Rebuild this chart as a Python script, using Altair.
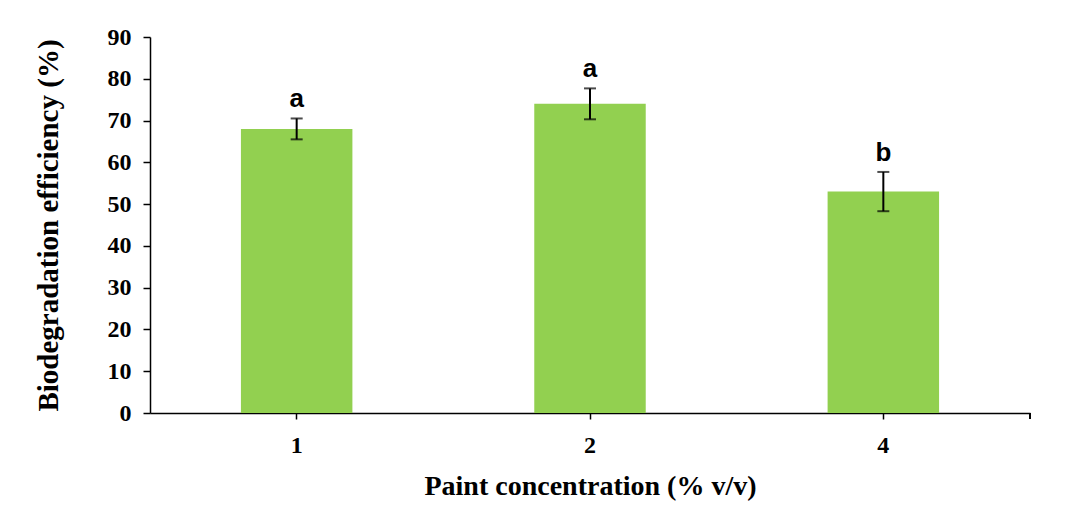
import altair as alt
import pandas as pd

categories = ["1", "2", "4"]
efficiency = [68.0, 74.0, 53.0]
errors = [2.5, 3.7, 4.7]
letters = ["a", "a", "b"]

df = pd.DataFrame({
    "cat": categories,
    "val": efficiency,
    "lo": [v - e for v, e in zip(efficiency, errors)],
    "hi": [v + e for v, e in zip(efficiency, errors)],
    "letter": letters,
})

serif = "Liberation Serif"

xaxis = alt.Axis(title="Paint concentration (% v/v)", labelAngle=0, grid=False, orient="bottom",
                 labelFont=serif, labelFontSize=24, labelFontWeight="bold",
                 labelColor="black", labelPadding=14,
                 titleFont=serif, titleFontSize=28, titleFontWeight="bold",
                 titleColor="black", titlePadding=15,
                 tickSize=6, tickColor="black", tickWidth=1.5,
                 domainColor="black", domainWidth=1.5)
yaxis = alt.Axis(title="Biodegradation efficiency (%)", values=list(range(0, 91, 10)),
                 grid=False, orient="left", labelFont=serif, labelFontSize=24,
                 labelFontWeight="bold", labelColor="black", labelPadding=12,
                 titleFont=serif, titleFontSize=29, titleFontWeight="bold",
                 titleColor="black", titlePadding=44,
                 tickSize=7, tickColor="black", tickWidth=1.5,
                 domainColor="black", domainWidth=1.5)

xscale = alt.Scale(paddingInner=0.62, paddingOuter=0.31)
yscale = alt.Scale(domain=[0, 90], nice=False)

xs = alt.X("cat:N", sort=categories, scale=xscale, axis=xaxis)

base = alt.Chart(df).encode(x=xs)

bars = base.mark_bar(color="#92D050").encode(
    y=alt.Y("val:Q", scale=yscale, axis=yaxis))

rules = base.mark_rule(color="black", strokeWidth=2).encode(
    y=alt.Y("lo:Q", scale=yscale, axis=yaxis), y2="hi:Q")

caps_lo = base.mark_tick(color="black", thickness=2, size=12, orient="horizontal").encode(
    y=alt.Y("lo:Q", scale=yscale, axis=yaxis))
caps_hi = base.mark_tick(color="black", thickness=2, size=12, orient="horizontal").encode(
    y=alt.Y("hi:Q", scale=yscale, axis=yaxis))

labels = base.mark_text(font="Liberation Sans", fontSize=26, fontWeight="bold",
                        color="black", baseline="bottom", dy=-6).encode(
    y=alt.Y("hi:Q", scale=yscale, axis=yaxis), text="letter:N")

end_tick = alt.Chart(df).mark_rule(color="black", strokeWidth=1.5).encode(
    x=alt.value(880), y=alt.value(376), y2=alt.value(382))

chart = alt.layer(bars, rules, caps_lo, caps_hi, labels, end_tick).properties(
    width=880, height=376,
    background="white",
    autosize=alt.AutoSizeParams(type="none"),
    padding={"left": 142, "top": 29, "right": 29, "bottom": 100},
).configure_view(stroke="transparent", strokeWidth=0).configure_axis(grid=False)

chart.save("out.html", embed_options={"renderer": "svg", "actions": False})
